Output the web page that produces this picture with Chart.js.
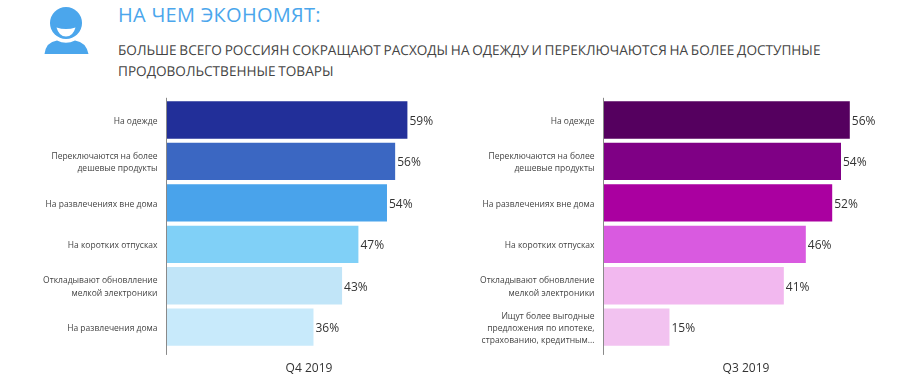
<!DOCTYPE html>
<html lang="ru">
<head>
<meta charset="utf-8">
<title>На чем экономят</title>
<script src="https://cdn.jsdelivr.net/npm/chart.js@4"></script>
<style>
  html, body { margin: 0; padding: 0; background: #fff; }
  body { width: 900px; height: 390px; position: relative; overflow: hidden; font-family: "Open Sans", sans-serif; }
  canvas { position: absolute; top: 0; }
  #chart-q4 { left: 0; }
  #chart-q3 { left: 437px; }
  #icon { position: absolute; left: 40px; top: 2px; }
  h1 { position: absolute; left: 118px; top: 1px; margin: 0; font-size: 20px; line-height: 28px; font-weight: 400; color: #4ba6ec; letter-spacing: .28px; white-space: nowrap; }
  p { position: absolute; left: 118px; top: 40px; margin: 0; font-size: 13.6px; line-height: 20.5px; color: #444; word-spacing: -.8px; text-rendering: geometricPrecision; white-space: nowrap; }
</style>
</head>
<body>
<svg id="icon" width="52" height="54" viewBox="40 2 52 54">
  <circle cx="66" cy="23" r="16" fill="#4ba6ec"/>
  <path d="M56.500 27.500 Q66 30.500 75.500 27.500 Q73 36.500 66 36.500 Q59 36.500 56.500 27.500 Z" fill="#fff"/>
  <path d="M44.500 54 Q46 42 57 40.500 Q66 45 75 40.500 Q86 42 88.500 54 Z" fill="#4ba6ec"/>
</svg>
<h1>НА ЧЕМ ЭКОНОМЯТ:</h1>
<p>БОЛЬШЕ ВСЕГО РОССИЯН СОКРАЩАЮТ РАСХОДЫ НА ОДЕЖДУ И ПЕРЕКЛЮЧАЮТСЯ НА БОЛЕЕ ДОСТУПНЫЕ<br>ПРОДОВОЛЬСТВЕННЫЕ ТОВАРЫ</p>
<canvas id="chart-q4" width="463" height="390"></canvas>
<canvas id="chart-q3" width="463" height="390"></canvas>
<script>
const labelsQ4 = [
  'На одежде',
  ['Переключаются на более', 'дешевые продукты'],
  'На развлечениях вне дома',
  'На коротких отпусках',
  ['Откладывают обновлление', 'мелкой электроники'],
  'На развлечения дома'
];
const labelsQ3 = [
  'На одежде',
  ['Переключаются на более', 'дешевые продукты'],
  'На развлечениях вне дома',
  'На коротких отпусках',
  ['Откладывают обновлление', 'мелкой электроники'],
  ['Ищут более выгодные', 'предложения по ипотеке,', 'страхованию, кредитным...']
];
const valuesQ4 = [59, 56, 54, 47, 43, 36];
const valuesQ3 = [56, 54, 52, 46, 41, 15];
const colorsQ4 = ['#222f99', '#3b67c2', '#49a3eb', '#80d0f7', '#c1e5f8', '#c8eafb'];
const colorsQ3 = ['#55005f', '#7f0085', '#aa00a0', '#d95ae0', '#f2b8ef', '#f2c2f0'];

// percent labels at the bar ends and the axis line, which runs past the last bar
const barExtras = {
  id: 'barExtras',
  afterDatasetsDraw(chart) {
    const ctx = chart.ctx;
    const area = chart.chartArea;
    ctx.save();
    ctx.strokeStyle = '#8a8a8a';
    ctx.lineWidth = 1;
    ctx.beginPath();
    ctx.moveTo(area.left, area.top - 1.5);
    ctx.lineTo(area.left, area.bottom + 7);
    ctx.stroke();
    ctx.fillStyle = '#333';
    ctx.font = '12px "Open Sans"';
    ctx.textBaseline = 'middle';
    chart.getDatasetMeta(0).data.forEach((bar, i) => {
      ctx.fillText(chart.data.datasets[0].data[i] + '%', bar.x + 2, bar.y + 1.5);
    });
    ctx.restore();
  }
};

const makeChart = (id, labels, values, colors, title, max) => new Chart(document.getElementById(id), {
  type: 'bar',
  data: {
    labels: labels,
    datasets: [{
      data: values,
      backgroundColor: colors,
      barPercentage: 0.9,
      categoryPercentage: 1
    }]
  },
  options: {
    indexAxis: 'y',
    responsive: false,
    animation: false,
    layout: { padding: { top: 99.3, right: 11.5, bottom: 0, left: 0 } },
    plugins: { legend: { display: false }, tooltip: { enabled: false } },
    scales: {
      x: {
        min: 0,
        max: max,
        grid: { display: false },
        border: { display: false },
        ticks: { display: false },
        title: {
          display: true,
          text: title,
          color: '#333',
          font: { family: 'Open Sans', size: 12 },
          padding: { top: 0, bottom: 14.5 }
        },
        afterFit: scale => { scale.height = 42.1; }
      },
      y: {
        grid: { display: false, drawTicks: false },
        border: { display: false },
        ticks: {
          color: '#444',
          padding: 9,
          autoSkip: false,
          labelOffset: 1.3,
          font: { family: 'Open Sans', size: 8.5, lineHeight: 1.45 }
        },
        afterFit: scale => { scale.width = 166.5; }
      }
    }
  },
  plugins: [barExtras]
});

makeChart('chart-q4', labelsQ4, valuesQ4, colorsQ4, 'Q4 2019', 69.8);
makeChart('chart-q3', labelsQ3, valuesQ3, colorsQ3, 'Q3 2019', 64.8);
</script>
</body>
</html>
